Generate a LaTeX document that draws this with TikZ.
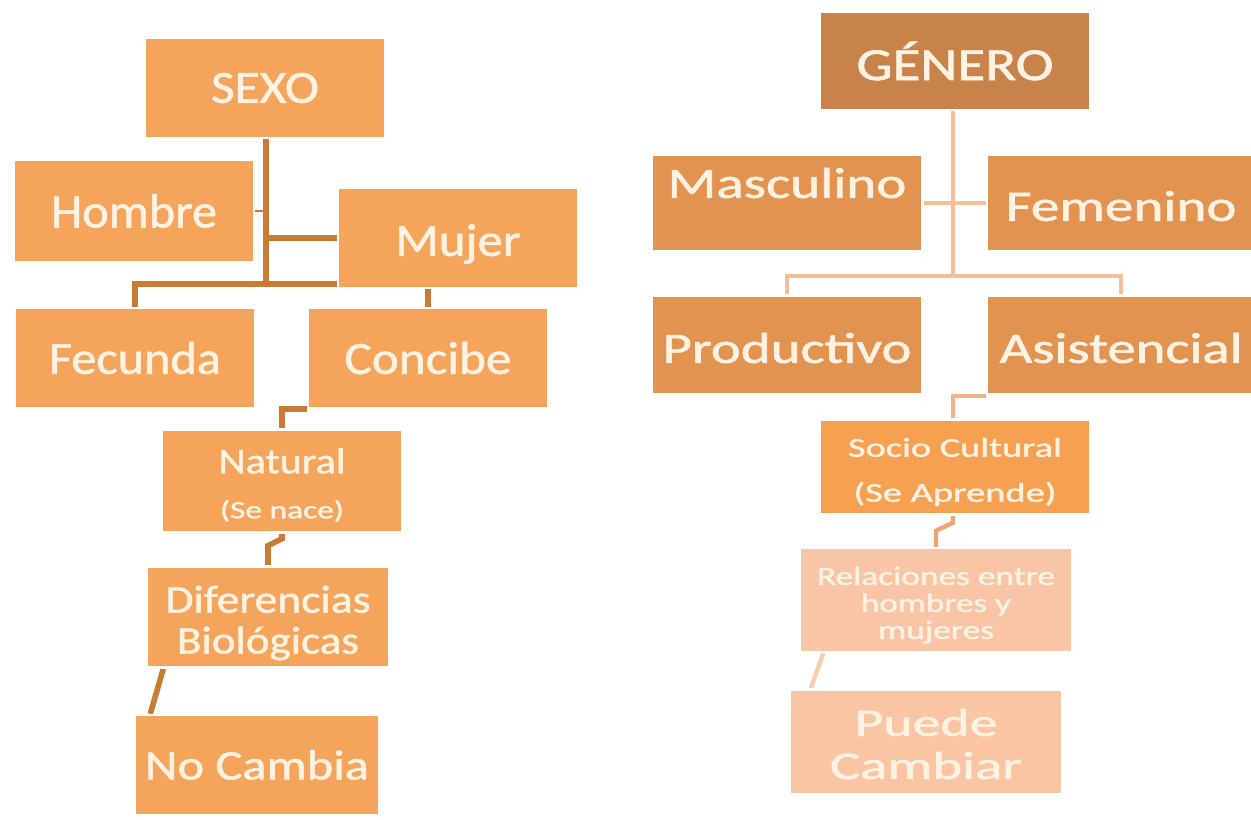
\documentclass[tikz,border=0pt]{standalone}
\usepackage{fontspec}
\setmainfont[FakeBold=1.2]{Carlito}
\usepackage{graphicx}
\usetikzlibrary{calc,backgrounds}
\definecolor{lfill}{HTML}{F5A55B}
\definecolor{lcon}{HTML}{C97A33}
\definecolor{gfill}{HTML}{C8834A}
\definecolor{mfill}{HTML}{E29350}
\definecolor{sfill}{HTML}{F5A151}
\definecolor{rfill}{HTML}{F8C6A6}
\definecolor{pfill}{HTML}{F9C5A3}
\definecolor{rcon}{HTML}{F8BD94}
\definecolor{rcontwo}{HTML}{F4B183}
\definecolor{rconthree}{HTML}{F0A46E}
\definecolor{rconfour}{HTML}{F9CCAE}
\definecolor{tcol}{HTML}{FFF2E2}
\newdimen\pxu \pxu=0.5pt
\newcommand\wl[2]{\resizebox{#1\pxu}{\height}{#2}}
\newcommand\fs[1]{\fontsize{#1}{#1}\selectfont}
\newcommand\stk[2]{\vbox{\baselineskip=#1\lineskiplimit=-\maxdimen\halign{\hfil##\hfil\cr#2\crcr}}}
\newcommand\up[2]{\raisebox{#1}[\height][\depth]{#2}}
\tikzset{
  box/.style={rectangle, draw=white, line width=1.2pt, inner sep=0pt, text=tcol},
  sz/.style 2 args={minimum width=#1*0.5pt, minimum height=#2*0.5pt},
  lline/.style={draw=lcon, line width=2.8pt},
  rline/.style={draw=rcon, line width=2.2pt},
}
\begin{document}
\begin{tikzpicture}[x=0.5pt,y=-0.5pt]
\useasboundingbox (0,0) rectangle (1251,819);
\clip (0,0) rectangle (1251,819);
% left tree
\node[box, fill=lfill, sz={240}{100}] (sexo) at (265,88) {\fs{23}\wl{108}{SEXO}};
\node[box, fill=lfill, sz={240}{102}] (hombre) at (134,211) {\fs{24}\wl{166}{Hombre}};
\node[box, fill=lfill, sz={240}{100}] (mujer) at (458,238) {\up{-3pt}{\fs{23}\wl{125}{Mujer}}};
\node[box, fill=lfill, sz={240}{100}] (fecunda) at (135,358) {\fs{23}\wl{172}{Fecunda}};
\node[box, fill=lfill, sz={240}{100}] (concibe) at (428,358) {\fs{23}\wl{167}{Concibe}};
\node[box, fill=lfill, sz={241}{103}] (natural) at (282,481) {\up{-2pt}{\stk{22.5pt}{\fs{18}\wl{127}{Natural}\cr\fs{12.5}\wl{124}{(Se nace)}}}};
\node[box, fill=lfill, sz={243}{101}] (dif) at (268,617) {\up{-3pt}{\stk{20.5pt}{\fs{19.5}\wl{205}{Diferencias}\cr\fs{19.5}\wl{182}{Biológicas}}}};
\node[box, fill=lfill, sz={245}{100}] (nocambia) at (257,765) {\fs{21}\wl{224}{No Cambia}};
% right tree
\node[box, fill=gfill, sz={270}{98}] (genero) at (955,61) {\fs{23}\wl{197}{GÉNERO}};
\node[box, fill=mfill, sz={271}{97}] (masc) at (787,203) {\up{10pt}{\fs{21.7}\wl{239}{Masculino}}};
\node[box, fill=mfill, sz={268}{97}] (fem) at (1121,203) {\up{-1.5pt}{\fs{21.7}\wl{231}{Femenino}}};
\node[box, fill=mfill, sz={271}{99}] (prod) at (787,345) {\up{-1.5pt}{\fs{21.7}\wl{249}{Productivo}}};
\node[box, fill=mfill, sz={268}{99}] (asist) at (1121,345) {\up{-1.5pt}{\fs{21.7}\wl{243}{Asistencial}}};
\node[box, fill=sfill, sz={270}{95}] (socio) at (955,467) {\up{-2.5pt}{\stk{22.5pt}{\fs{13.5}\wl{214}{Socio Cultural}\cr\fs{13.5}\wl{203}{(Se Aprende)}}}};
\node[box, fill=rfill, sz={273}{104}] (rel) at (936,600) {\up{-2.5pt}{\stk{13.5pt}{\fs{13.2}\wl{238}{Relaciones entre}\cr\fs{13.2}\wl{150}{hombres y}\cr\fs{13.2}\wl{116}{mujeres}}}};
\node[box, fill=pfill, sz={272}{105}] (puede) at (926,742) {\up{-1pt}{\stk{21.5pt}{\fs{19.5}\wl{143}{Puede}\cr\fs{19.5}\wl{192}{Cambiar}}}};
% connectors
\begin{scope}[on background layer]
\coordinate (jl) at (266,284);
\draw[lline] (sexo.south -| jl) -- (jl);
\draw[lline] (fecunda.north) |- (jl) -- (jl -| mujer.west);
\draw[lline] (mujer.west) -- (mujer.west -| jl);
\draw[lline, line width=1pt] (hombre.east) -- (hombre.east -| jl);
\draw[lline] (concibe.north) -- (concibe.north |- mujer.south);
\draw[lline] (concibe.south west) -| (natural.north);
\draw[lline] (natural.south) -- ++(0,5) -- ++(-14,7) -- (dif.north);
\draw[lline] ($(dif.south west)+(18,0)$) -- ($(nocambia.north west)+(17,0)$);
\coordinate (jr) at (953,276);
\draw[rline] (genero.south -| jr) -- (jr);
\draw[rline] (prod.north) |- (jr) -| (asist.north);
\draw[rline] (masc.east) -- (fem.west);
\draw[rline, draw=rcontwo] (asist.south west) -| (socio.north -| jr);
\draw[rline, draw=rconthree] (socio.south -| jr) -- ++(0,7) -- ++(-17,8) -- (rel.north);
\draw[rline, draw=rconfour] ($(rel.south west)+(25,0)$) -- ($(puede.north west)+(22,0)$);
\end{scope}
\end{tikzpicture}
\end{document}
